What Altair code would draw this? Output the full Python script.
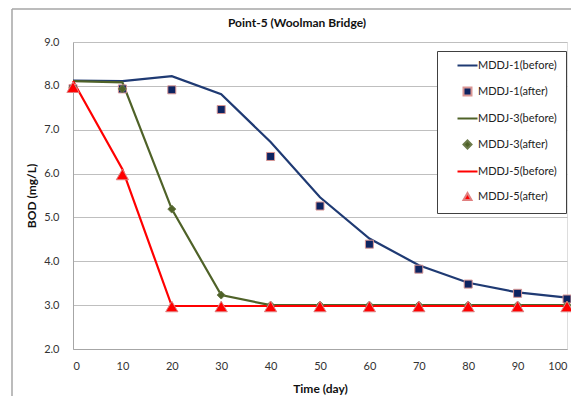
import altair as alt
import pandas as pd

days = [0, 10, 20, 30, 40, 50, 60, 70, 80, 90, 100]
mddj1_before = [8.12, 8.11, 8.22, 7.81, 6.72, 5.46, 4.52, 3.91, 3.51, 3.29, 3.17]
mddj1_after = [7.94, 7.93, 7.91, 7.46, 6.39, 5.26, 4.39, 3.82, 3.48, 3.27, 3.14]
mddj3_before = [8.11, 8.08, 5.19, 3.23, 3.0, 3.0, 3.0, 3.0, 3.0, 3.0, 3.0]
mddj3_after = [7.97, 7.93, 5.19, 3.23, 3.0, 3.0, 3.0, 3.0, 3.0, 3.0, 3.0]
mddj5_before = [8.11, 6.1, 2.98, 2.98, 2.98, 2.98, 2.98, 2.98, 2.98, 2.98, 2.98]
mddj5_after = [7.97, 5.98, 2.97, 2.97, 2.97, 2.97, 2.97, 2.97, 2.97, 2.97, 2.97]

series_names = ["MDDJ-1(before)", "MDDJ-1(after)", "MDDJ-3(before)",
                "MDDJ-3(after)", "MDDJ-5(before)", "MDDJ-5(after)"]
series_values = [mddj1_before, mddj1_after, mddj3_before, mddj3_after, mddj5_before, mddj5_after]
fill_colors = ["#1F3A73", "#0D2461", "#4F6228", "#4F6228", "#FF0000", "#FF0000"]
stroke_colors = ["#1F3A73", "#D99694", "#4F6228", "#6B7A4A", "#FF0000", "#E08080"]
line_path = "M-2.5,0L2.5,0"
shapes = [line_path, "square", line_path, "diamond", line_path, "triangle-up"]
title_text = "Point-5 (Woolman Bridge)"

rows = []
for name, vals in zip(series_names, series_values):
    for d, v in zip(days, vals):
        rows.append({"day": d, "bod": v, "series": name,
                     "kind": "before" if "before" in name else "after"})
df = pd.DataFrame(rows)

before_names = [n for n in series_names if "before" in n]
before_colors = [c for n, c in zip(series_names, stroke_colors) if "before" in n]

FONT = "Lato"

x_enc = alt.X("day:Q", scale=alt.Scale(domain=[0, 100], nice=False),
              axis=alt.Axis(values=days, format="d", title="Time (day)", grid=False,
                            ticks=False, labelPadding=11, titlePadding=12,
                            domainColor="#A6A6A6", labelColor="#333333", labelFontSize=11,
                            labelFont=FONT, titleFont=FONT, titleFontSize=12,
                            titleFontWeight="bold", titleColor="#111111"))
y_enc = alt.Y("bod:Q", scale=alt.Scale(domain=[2, 9], nice=False, zero=False),
              axis=alt.Axis(values=[2, 3, 4, 5, 6, 7, 8, 9], format=".1f", title="BOD (mg/L)",
                            grid=True, gridColor="#BFBFBF", ticks=False, labelPadding=14,
                            titlePadding=5, domainColor="#A6A6A6", labelColor="#333333",
                            labelFontSize=11, labelFont=FONT, titleFont=FONT,
                            titleFontSize=12, titleFontWeight="bold", titleColor="#111111"))

lines = alt.Chart(df).transform_filter(alt.datum.kind == "before").mark_line(
    strokeWidth=2.2).encode(
    x=x_enc, y=y_enc,
    color=alt.Color("series:N", scale=alt.Scale(domain=before_names, range=before_colors),
                    legend=None),
)

legend = alt.Legend(orient="none", legendX=364, legendY=9, title=None, padding=9,
                    rowPadding=12, symbolSize=64, symbolStrokeWidth=2, symbolOffset=16,
                    labelOffset=5, labelFont=FONT, labelFontSize=11, labelColor="#222222",
                    fillColor="white", strokeColor="#404040",
                    labelExpr="datum.label + '\u2002\u2002\u2002\u2002'")

points = alt.Chart(df).transform_filter(
    (alt.datum.kind == "after") & (alt.datum.series != "MDDJ-5(after)")
).mark_point(filled=True, size=64, strokeWidth=1, opacity=1).encode(
    x="day:Q", y="bod:Q",
    fill=alt.Fill("series:N", scale=alt.Scale(domain=series_names, range=fill_colors),
                  legend=legend),
    stroke=alt.Stroke("series:N", scale=alt.Scale(domain=series_names, range=stroke_colors),
                      legend=legend),
    shape=alt.Shape("series:N", scale=alt.Scale(domain=series_names, range=shapes),
                    legend=legend),
)

triangles = alt.Chart(df).transform_filter(alt.datum.series == "MDDJ-5(after)").mark_point(
    filled=True, shape="triangle-up", size=150, fill="#FF0000", stroke="#E08080",
    strokeWidth=1, opacity=1).encode(x="day:Q", y="bod:Q")

one = alt.Data(values=[{}])
frame_left = alt.Chart(one).mark_rule(stroke="#A6A6A6", strokeWidth=1.5).encode(
    x=alt.value(-61), y=alt.value(-33), y2=alt.value(360))
frame_top = alt.Chart(one).mark_rule(stroke="#A6A6A6", strokeWidth=1.5).encode(
    x=alt.value(-61), x2=alt.value(505), y=alt.value(-33))
title = alt.Chart(one).mark_text(font=FONT, fontSize=12, fontWeight="bold",
                                 color="#111111", baseline="middle", align="center").encode(
    x=alt.value(224), y=alt.value(-19), text=alt.value(title_text))

chart = alt.layer(frame_left, frame_top, title, lines, points, triangles).properties(
    width=494, height=307,
    autosize=alt.AutoSizeParams(type="none"),
    padding={"left": 65, "top": 34, "right": 4, "bottom": 47},
).configure_view(stroke=None).configure(background="white")

chart.save("out.html", embed_options={"renderer": "svg", "actions": False})
